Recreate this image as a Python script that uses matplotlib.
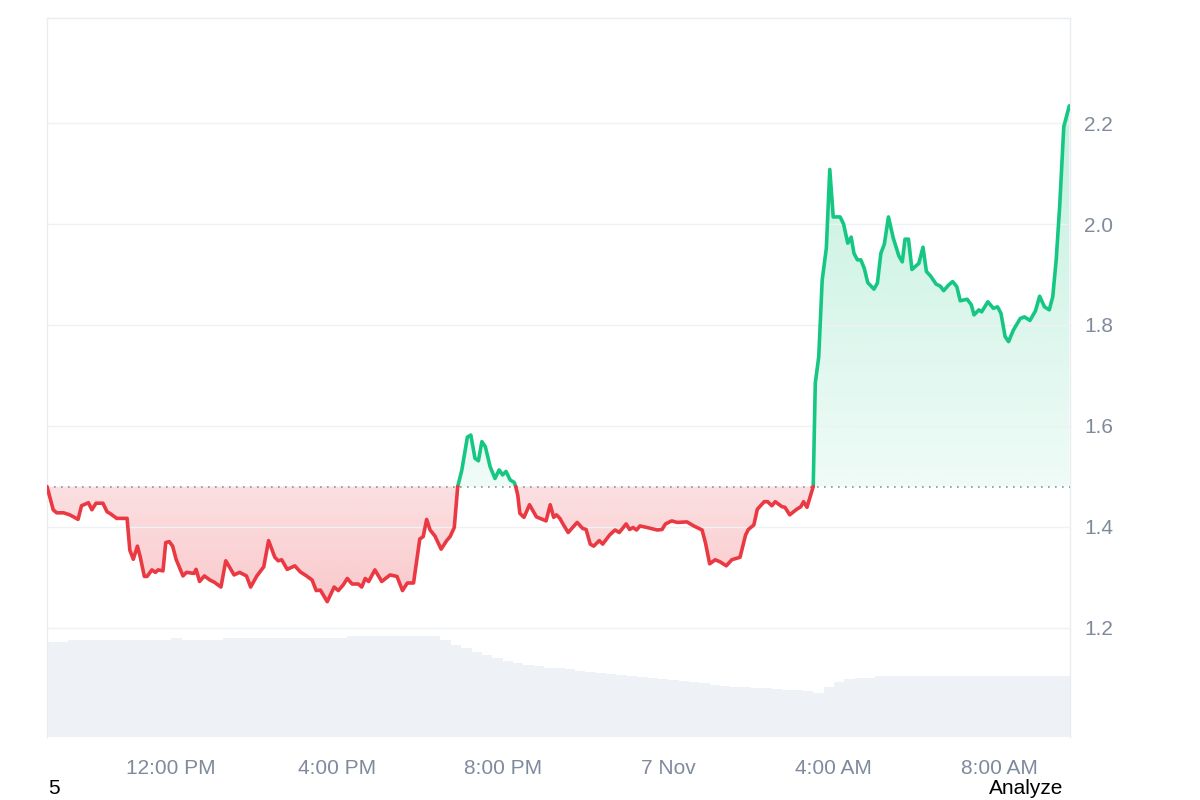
import numpy as np
import pandas as pd
import matplotlib
matplotlib.use("Agg")
import matplotlib.pyplot as plt
import matplotlib.dates as mdates
from matplotlib.path import Path

plt.rcParams['font.family'] = ['Liberation Sans', 'DejaVu Sans']

# Data: minutes after 6 Nov 09:00 and price
minutes = [
    0, 9, 14, 24, 33, 45, 50, 60, 65, 71, 81, 87, 91, 101, 116, 120, 125, 131, 135, 141,
    145, 152, 157, 161, 168, 172, 177, 182, 187, 197, 202, 213, 216, 221, 228, 236, 243, 252, 259, 271,
    279, 289, 295, 304, 314, 321, 330, 335, 340, 348, 359, 367, 376, 384, 390, 396, 406, 416, 422, 429,
    435, 442, 451, 456, 461, 466, 475, 485, 497, 507, 515, 522, 531, 540, 545, 550, 555, 562, 571, 579,
    584, 590, 595, 601, 609, 614, 620, 625, 630, 635, 642, 649, 655, 660, 665, 671, 677, 679, 682, 685,
    691, 699, 709, 723, 729, 734, 738, 743, 747, 755, 768, 776, 781, 787, 792, 800, 805, 815, 823, 829,
    839, 844, 849, 854, 859, 869, 884, 891, 896, 905, 913, 927, 937, 949, 954, 960, 968, 975, 984, 992,
    1004, 1012, 1016, 1024, 1029, 1039, 1044, 1050, 1055, 1065, 1069, 1076, 1086, 1092, 1096, 1101, 1110, 1113, 1118, 1123,
    1129, 1134, 1139, 1149, 1154, 1160, 1165, 1169, 1174, 1179, 1184, 1189, 1198, 1203, 1208, 1213, 1219, 1226, 1234, 1239,
    1243, 1248, 1253, 1263, 1269, 1274, 1280, 1288, 1294, 1299, 1306, 1312, 1318, 1323, 1333, 1339, 1343, 1350, 1354, 1363,
    1371, 1377, 1382, 1388, 1393, 1400, 1410, 1416, 1424, 1432, 1438, 1445, 1452, 1457, 1462, 1467, 1473, 1481,
]
prices = [
    1.480, 1.434, 1.428, 1.428, 1.424, 1.415, 1.442, 1.448, 1.434, 1.447, 1.447, 1.430, 1.427, 1.417, 1.417, 1.354, 1.336, 1.362, 1.341, 1.302,
    1.302, 1.315, 1.310, 1.315, 1.313, 1.369, 1.371, 1.362, 1.336, 1.303, 1.310, 1.308, 1.316, 1.292, 1.303, 1.295, 1.290, 1.281, 1.333, 1.305,
    1.310, 1.303, 1.281, 1.303, 1.321, 1.373, 1.340, 1.333, 1.335, 1.316, 1.323, 1.311, 1.303, 1.295, 1.274, 1.275, 1.252, 1.281, 1.274, 1.285,
    1.298, 1.287, 1.287, 1.281, 1.298, 1.292, 1.315, 1.292, 1.305, 1.302, 1.274, 1.289, 1.289, 1.376, 1.381, 1.415, 1.394, 1.382, 1.356, 1.373,
    1.381, 1.399, 1.480, 1.513, 1.578, 1.582, 1.536, 1.531, 1.569, 1.559, 1.519, 1.496, 1.513, 1.503, 1.510, 1.493, 1.488, 1.480, 1.463, 1.427,
    1.419, 1.444, 1.420, 1.412, 1.444, 1.419, 1.424, 1.417, 1.407, 1.389, 1.409, 1.397, 1.395, 1.366, 1.362, 1.373, 1.366, 1.384, 1.394, 1.389,
    1.406, 1.395, 1.399, 1.394, 1.402, 1.399, 1.394, 1.395, 1.406, 1.412, 1.409, 1.410, 1.402, 1.394, 1.368, 1.327, 1.335, 1.331, 1.323, 1.335,
    1.340, 1.384, 1.395, 1.404, 1.435, 1.450, 1.450, 1.442, 1.450, 1.440, 1.439, 1.424, 1.435, 1.440, 1.450, 1.439, 1.480, 1.685, 1.737, 1.889,
    1.952, 2.108, 2.014, 2.014, 2.000, 1.962, 1.974, 1.942, 1.929, 1.929, 1.912, 1.884, 1.871, 1.883, 1.942, 1.960, 2.014, 1.972, 1.937, 1.925,
    1.970, 1.970, 1.910, 1.922, 1.954, 1.906, 1.897, 1.881, 1.877, 1.868, 1.879, 1.886, 1.876, 1.848, 1.851, 1.840, 1.820, 1.830, 1.826, 1.846,
    1.833, 1.836, 1.823, 1.777, 1.767, 1.790, 1.813, 1.816, 1.809, 1.828, 1.857, 1.836, 1.830, 1.856, 1.929, 2.034, 2.193, 2.234,
]

# 24h volume, one value per 15 minutes (arbitrary units)
volume = [
    94.7, 94.7, 97, 97, 97, 97, 97, 97, 97, 97, 97, 97, 98.5, 96.7, 96.7, 96.7, 96.7, 98.7, 98.7, 98.7,
    98.7, 98.7, 98.7, 98.7, 98.7, 98.7, 98.7, 98.7, 98.7, 100.3, 100.3, 100.3, 100.3, 100.3, 100.3, 100.3, 100.3, 100.3, 97, 92,
    88.5, 85, 82, 79, 76, 73.5, 72.2, 70.5, 69, 68.4, 67.4, 66, 64.9, 64, 63, 61.7, 60.8, 60, 58.7, 57.3,
    56.4, 55.5, 54.6, 53.7, 51.8, 50.5, 49.8, 49.4, 49, 48.6, 47.5, 46.6, 46.4, 46.1, 43.7, 50.3, 54.7, 57.3, 58.5, 59,
    60.5, 61, 61, 61, 61, 61, 61, 61, 61, 61, 61, 61, 61, 61, 61, 61, 61, 61, 61, 65,
]

tick_times = ['2024-11-06 12:00', '2024-11-06 16:00', '2024-11-06 20:00',
              '2024-11-07 00:00', '2024-11-07 04:00', '2024-11-07 08:00']
tick_labels = ['12:00 PM', '4:00 PM', '8:00 PM', '7 Nov', '4:00 AM', '8:00 AM']
y_ticks = [1.2, 1.4, 1.6, 1.8, 2.0, 2.2]

start = pd.Timestamp('2024-11-06 09:00')
x = mdates.date2num(start + pd.to_timedelta(minutes, unit='min'))
p = np.array(prices)
base = p[0]
vx = mdates.date2num(start + pd.to_timedelta(np.arange(len(volume)) * 15, unit='min'))
x0 = mdates.date2num(start)
x1 = mdates.date2num(start + pd.Timedelta(minutes=1482))
ylo, yhi = 0.984, 2.408

GREEN = '#16c784'
RED = '#ea3943'
GRAY = '#808a9d'

fig = plt.figure(figsize=(12, 8), dpi=100)
pos = [47 / 1200, 63 / 800, 1023 / 1200, 719 / 800]

# volume (behind the price axes)
axv = fig.add_axes(pos)
bw = (vx[1] - vx[0])
axv.bar(vx, volume, width=bw, align='edge', color='#eef1f5', edgecolor='none')
axv.set_xlim(x0, x1)
axv.set_ylim(0, max(volume) / 0.14)
axv.axis('off')

ax = fig.add_axes(pos)
ax.set_facecolor('none')
ax.set_xlim(x0, x1)
ax.set_ylim(ylo, yhi)


def gradient_fill(mask, color, a_base, a_far, y_far):
    poly = ax.fill_between(x, p, base, where=mask, interpolate=True,
                           facecolor='none', edgecolor='none')
    path = Path.make_compound_path(*poly.get_paths())
    rgb = matplotlib.colors.to_rgb(color)
    n = 256
    img = np.ones((n, 1, 4))
    img[:, 0, :3] = rgb
    if y_far > base:
        img[:, 0, 3] = np.linspace(a_base, a_far, n)
        ext = [x0, x1, base, y_far]
    else:
        img[:, 0, 3] = np.linspace(a_far, a_base, n)
        ext = [x0, x1, y_far, base]
    im = ax.imshow(img, extent=ext, origin='lower', aspect='auto', zorder=1)
    im.set_clip_path(path, transform=ax.transData)


gradient_fill(p >= base, GREEN, 0.07, 0.30, yhi)
gradient_fill(p <= base, RED, 0.16, 0.40, ylo)

ax.plot(x, np.where(p >= base, p, np.nan), color=GREEN, lw=2.6, zorder=4,
        solid_joinstyle='round', solid_capstyle='round')
ax.plot(x, np.where(p <= base, p, np.nan), color=RED, lw=2.6, zorder=4,
        solid_joinstyle='round', solid_capstyle='round')
ax.axhline(base, color='#8a93a3', lw=1.2, ls=(0, (1, 3.2)), zorder=3)

ax.set_xlim(x0, x1)
ax.set_ylim(ylo, yhi)
ax.set_yticks(y_ticks)
ax.set_yticklabels([f'{v:.1f}' for v in y_ticks])
ax.yaxis.tick_right()
ax.set_xticks(mdates.date2num(pd.to_datetime(tick_times)))
ax.set_xticklabels(tick_labels)
ax.tick_params(axis='both', length=0, labelcolor=GRAY, labelsize=15)
ax.tick_params(axis='x', pad=16)
ax.tick_params(axis='y', pad=10)
ax.grid(axis='y', color='#eff1f4', lw=1, zorder=0)
ax.grid(axis='x', visible=False)
for side in ['left', 'top', 'right']:
    ax.spines[side].set_color('#e9ecf0')
    ax.spines[side].set_linewidth(1)
ax.spines['bottom'].set_visible(False)

fig.text(48 / 1200, 11 / 800, '5', ha='left', va='center', fontsize=15, color='black')
fig.text(1063 / 1200, 11 / 800, 'Analyze', ha='right', va='center', fontsize=15, color='black')

fig.savefig('out.png', dpi=100)
